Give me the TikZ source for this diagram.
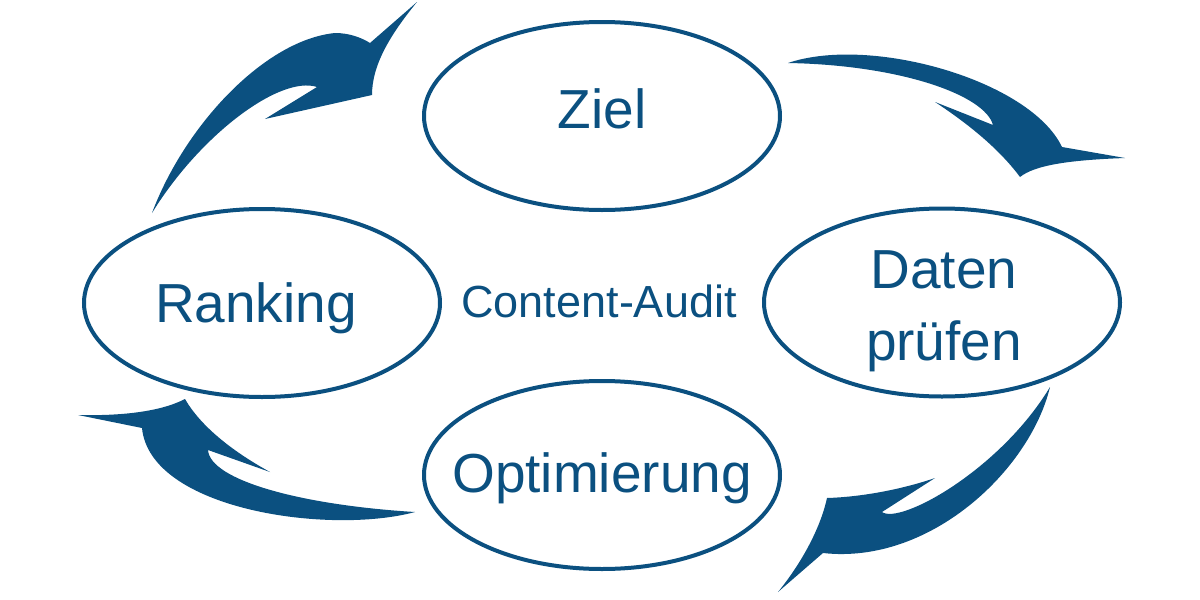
\documentclass[tikz,border=0pt]{standalone}
\usepackage{fontspec}
\setmainfont{Liberation Sans}
\usetikzlibrary{shapes.geometric}
\definecolor{cblue}{RGB}{11,80,128}
\tikzset{
  oval/.style={ellipse, draw=cblue, line width=4pt, minimum width=356pt, minimum height=188pt, inner sep=0pt},
  big/.style={text=cblue, anchor=base, inner sep=0pt, font=\fontsize{55pt}{66pt}\selectfont},
  mid/.style={text=cblue, anchor=base, inner sep=0pt, font=\fontsize{45pt}{54pt}\selectfont},
  swoosh/.style={fill=cblue, draw=none}
}
\begin{document}
\begin{tikzpicture}[x=1pt,y=-1pt]
\useasboundingbox (0,0) rectangle (1200,600);
% ellipses
\node[oval] (ziel) at (602,116) {};
\node[oval] (daten) at (942,302.5) {};
\node[oval] (ranking) at (262,303) {};
\node[oval] (opt) at (602,475) {};
% texts
\node[big] (tziel) at (602,128) {Ziel};
\node[big] (tdaten1) at (944,288) {Daten};
\node[big] (tdaten2) at (944,360) {prüfen};
\node[big] (tranking) at (256,322) {Ranking};
\node[big] (topt) at (602,492) {Optimierung};
\node[mid] (tcenter) at (599,317) {Content-Audit};
% arrow top-left (Ranking -> Ziel)
\fill[swoosh] (152,213) .. controls (185,125) and (265,40) .. (335,33)
  .. controls (350,33) and (362,38) .. (370,43)
  -- (417,2)
  .. controls (390,35) and (372,65) .. (372,95)
  -- (265,119)
  -- (317,87)
  .. controls (280,75) and (200,135) .. (152,213) -- cycle;
% arrow top-right (Ziel -> Daten)
\fill[swoosh] (788,63) .. controls (870,35) and (1030,80) .. (1062,147)
  -- (1125,158)
  .. controls (1070,160) and (1035,165) .. (1020,177)
  .. controls (1000,150) and (970,125) .. (935,102)
  -- (993,125)
  .. controls (985,95) and (900,65) .. (788,63) -- cycle;
% arrow bottom-right (Daten -> Optimierung)
\fill[swoosh] (1050,387) .. controls (1030,470) and (930,565) .. (823,553)
  -- (778,592)
  .. controls (800,565) and (820,530) .. (827,498)
  .. controls (860,497) and (900,490) .. (935,478)
  -- (882,512)
  .. controls (900,525) and (1000,470) .. (1050,387) -- cycle;
% arrow bottom-left (Optimierung -> Ranking)
\fill[swoosh] (415,512) .. controls (330,535) and (150,510) .. (142,428)
  -- (78,415)
  .. controls (120,416) and (160,412) .. (185,399)
  .. controls (200,425) and (230,450) .. (270,472)
  -- (208,450)
  .. controls (210,480) and (300,505) .. (415,512) -- cycle;
\end{tikzpicture}
\end{document}
